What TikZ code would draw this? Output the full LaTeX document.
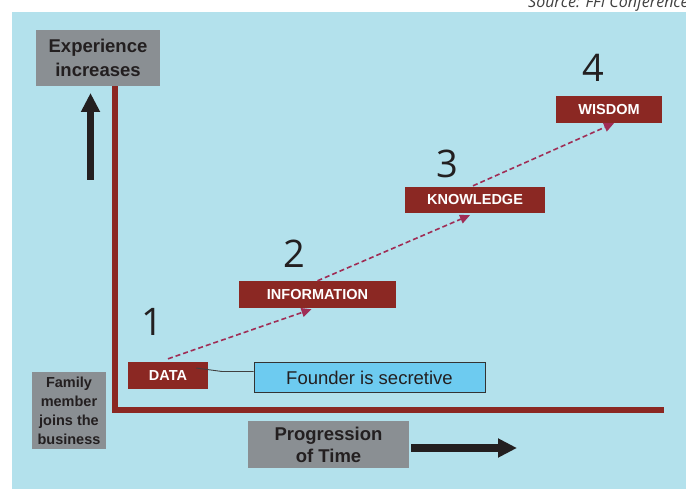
\documentclass[tikz,border=0pt]{standalone}
\usepackage{fontspec}
\setmainfont{Liberation Sans}
\newfontfamily\numfont{Open Sans}
\usetikzlibrary{arrows.meta}
\definecolor{bgblue}{HTML}{B3E1EC}
\definecolor{boxgray}{HTML}{8A8F93}
\definecolor{darkred}{HTML}{8B2823}
\definecolor{dashred}{HTML}{A02D55}
\definecolor{founderblue}{HTML}{6DCBF0}
\definecolor{inktext}{HTML}{231F20}
\tikzset{
  graybox/.style={fill=boxgray, text=inktext, inner sep=0pt, align=center, font=\bfseries\fontsize{18.5}{24}\selectfont},
  stagebox/.style={fill=darkred, text=white, inner sep=0pt, font=\bfseries\fontsize{14.5}{16}\selectfont},
  numlabel/.style={text=inktext, inner sep=0pt, font=\numfont\fontsize{38}{40}\selectfont},
  dasharrow/.style={draw=dashred, line width=1.6pt, dash pattern=on 5pt off 3pt, -{Triangle[length=10pt,width=9pt]}},
  axisline/.style={draw=darkred, line width=6pt},
  bigarrow/.style={draw=inktext, line width=7.5pt, -{Triangle[length=19pt,width=18pt]}},
}
\begin{document}
\begin{tikzpicture}[x=1pt,y=-1pt]
\useasboundingbox (0,0) rectangle (686,489);
\fill[white] (0,0) rectangle (686,489);
\fill[bgblue] (12,12) rectangle (686,489);
\node[anchor=base west, inner sep=0pt, text=black!75, font=\numfont\itshape\fontsize{16}{17}\selectfont] (src) at (528,8) {Source: FFI Conference};

% axes
\draw[axisline] (115,86) -- (115,410) -- (664,410);

% gray labels
\node[graybox, minimum width=124pt, minimum height=56pt] (exp) at (98,58) {Experience\\increases};
\node[graybox, minimum width=74pt, minimum height=77pt, font=\bfseries\fontsize{14.5}{19}\selectfont] (fam) at (69,410.5) {Family\\member\\joins the\\business};
\node[graybox, minimum width=161pt, minimum height=47pt, font=\bfseries\fontsize{18.5}{22}\selectfont] (prog) at (328.5,444.5) {Progression\\of Time};

% big arrows
\coordinate (upS) at (90.5,180);
\coordinate (upE) at (90.5,93);
\draw[bigarrow] (upS) -- (upE);
\coordinate (rtS) at (411,448);
\coordinate (rtE) at (517,448);
\draw[bigarrow] (rtS) -- (rtE);

% stage boxes
\node[stagebox, minimum width=80pt, minimum height=27pt] (data) at (168,375.5) {DATA};
\node[stagebox, minimum width=157pt, minimum height=27pt] (info) at (317.5,294.5) {INFORMATION};
\node[stagebox, minimum width=140pt, minimum height=26pt] (know) at (475,200) {KNOWLEDGE};
\node[stagebox, minimum width=106pt, minimum height=27pt] (wis) at (609,109.5) {WISDOM};

% numbers
\node[numlabel] (n1) at (152,321.5) {1};
\node[numlabel] (n2) at (294,253.5) {2};
\node[numlabel] (n3) at (447,163.5) {3};
\node[numlabel] (n4) at (593,67.5) {4};

% founder box
\node[draw=black!80, line width=0.9pt, fill=founderblue, text=inktext, inner sep=0pt, minimum width=231pt, minimum height=30pt, font=\fontsize{18.5}{20}\selectfont] (found) at (369.5,377.5) {Founder is secretive};

% connector DATA -> founder
\coordinate (c1) at (196,368);
\coordinate (c2) at (222,371.5);
\draw[black!75, line width=0.9pt] (c1) -- (c2) -- (found.west |- c2);

% dashed progression arrows
\draw[dasharrow] ([yshift=3pt]data.north) -- ([xshift=-6pt,yshift=-1pt]info.south);
\draw[dasharrow] (info.north) -- ([xshift=-5pt,yshift=-2pt]know.south);
\draw[dasharrow] ([xshift=-2pt,yshift=1pt]know.north) -- ([xshift=5pt]wis.south);
\end{tikzpicture}
\end{document}
